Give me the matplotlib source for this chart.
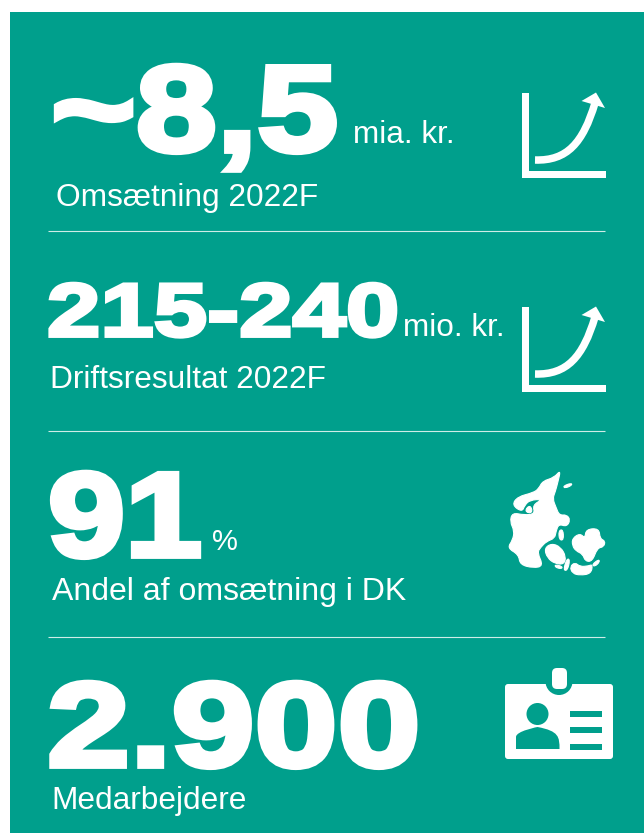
import matplotlib
matplotlib.use("Agg")
import matplotlib.patheffects as pe
import matplotlib.pyplot as plt
from matplotlib.patches import Circle, FancyBboxPatch, PathPatch, Rectangle, Polygon
from matplotlib.path import Path
from matplotlib.transforms import Affine2D

TEAL = "#009F8C"
WHITE = "#FFFFFF"

big_values = ["~8,5", "215-240", "91", "2.900"]
units = ["mia. kr.", "mio. kr.", "%", ""]
captions = ["Omsætning 2022F", "Driftsresultat 2022F", "Andel af omsætning i DK", "Medarbejdere"]
divider_y = [231, 431, 637]

# Denmark outline, in zoom-crop pixels
dk_shapes = [
    [(242, 60), (234, 95), (226, 125), (218, 146), (228, 172), (238, 196), (260, 194), (271, 210),
     (260, 230), (236, 222), (228, 245), (224, 265), (200, 274), (182, 292), (172, 308), (190, 348),
     (160, 354), (120, 344), (116, 314), (82, 294), (98, 270), (103, 243), (90, 215), (97, 188),
     (132, 195), (165, 192), (158, 165), (188, 148), (150, 150), (134, 166), (126, 186), (96, 165),
     (113, 140), (160, 128), (176, 116), (188, 93), (222, 83)],
    [(135, 180), (150, 165), (158, 185), (145, 190)],
    [(193, 295), (215, 280), (242, 291), (258, 320), (252, 343), (225, 341), (202, 324)],
    [(277, 265), (300, 250), (315, 265), (318, 238), (357, 235), (360, 266), (376, 273), (371, 291),
     (352, 294), (337, 334), (316, 334), (308, 312), (288, 303), (277, 287)],
    [(270, 350), (285, 337), (300, 350), (325, 348), (338, 343), (333, 371), (300, 376), (277, 370)],
    [(250, 360), (261, 325), (270, 330), (262, 362)],
    [(225, 344), (247, 349), (245, 357), (226, 352)],
    [(250, 108), (274, 99), (276, 106), (254, 115)],
    [(236, 242), (249, 238), (251, 270), (238, 270)],
    [(336, 344), (356, 328), (359, 336), (344, 350)],
]


class WideBold(pe.AbstractPathEffect):
    """Thicken and stretch a text sideways, the source font is an Arial Black."""

    def __init__(self, x0, sx, lw):
        super().__init__()
        self.x0, self.sx, self.lw = x0, sx, lw

    def draw_path(self, renderer, gc, tpath, affine, rgbFace=None):
        gc0 = renderer.new_gc()
        gc0.copy_properties(gc)
        gc0.set_linewidth(self.lw)
        gc0.set_foreground(WHITE)
        gc0.set_joinstyle("miter")
        stretch = Affine2D().translate(-self.x0, 0).scale(self.sx, 1).translate(self.x0, 0)
        renderer.draw_path(gc0, tpath, affine + stretch, rgbFace)
        gc0.restore()


def big(ax, x, y, s, size, sx, lw):
    ax.text(x, y, s, fontsize=size, fontweight="bold", color=WHITE, va="baseline", ha="left",
            path_effects=[WideBold(x, sx, lw)])


def small(ax, x, y, s, size):
    ax.text(x, y, s, fontsize=size, color=WHITE, va="baseline", ha="left")


def growth_icon(ax, dy):
    ax.add_patch(Rectangle((522, 93 + dy), 7, 85, fc=WHITE, ec="none"))
    ax.add_patch(Rectangle((522, 171 + dy), 84.5, 7, fc=WHITE, ec="none"))
    verts = [(535, 160 + dy), (567, 161 + dy), (583, 143 + dy), (595, 103 + dy)]
    codes = [Path.MOVETO, Path.CURVE4, Path.CURVE4, Path.CURVE4]
    ax.add_patch(PathPatch(Path(verts, codes), fc="none", ec=WHITE, lw=5.4, capstyle="butt"))
    ax.add_patch(Polygon([(596, 92.5 + dy), (581.5, 101 + dy), (605, 108 + dy)], fc=WHITE, ec="none"))


def smooth_path(pts):
    # closed quadratic spline through the midpoints, keeps the coast rounded
    mids = [((a[0] + b[0]) / 2, (a[1] + b[1]) / 2) for a, b in zip(pts, pts[1:] + pts[:1])]
    verts = [mids[-1]]
    codes = [Path.MOVETO]
    for p, m in zip(pts, mids):
        verts += [p, m]
        codes += [Path.CURVE3, Path.CURVE3]
    return Path(verts, codes)


def denmark(ax):
    for shape in dk_shapes:
        pts = [(480 + x / 3, 450 + y / 3) for x, y in shape]
        ax.add_patch(PathPatch(smooth_path(pts), fc=WHITE, ec=WHITE, lw=0.8, joinstyle="round"))


def badge(ax):
    ax.add_patch(FancyBboxPatch((505, 684), 108, 75, boxstyle="round,pad=0,rounding_size=3",
                                fc=WHITE, ec="none"))
    ax.add_patch(Circle((559, 681.5), 13.5, fc=TEAL, ec="none"))
    ax.add_patch(FancyBboxPatch((552, 668), 15, 21, boxstyle="round,pad=0,rounding_size=5",
                                fc=WHITE, ec="none"))
    ax.add_patch(Circle((537.5, 714), 11, fc=TEAL, ec="none"))
    body = [(516, 749), (516, 737), (516, 731), (537.5, 727), (537.5, 727),
            (559, 731), (559.5, 737), (559.5, 749), (516, 749)]
    codes = [Path.MOVETO, Path.LINETO, Path.CURVE4, Path.CURVE4, Path.LINETO,
             Path.CURVE4, Path.CURVE4, Path.LINETO, Path.CLOSEPOLY]
    ax.add_patch(PathPatch(Path(body, codes), fc=TEAL, ec="none"))
    for y0 in (711, 727, 744):
        ax.add_patch(Rectangle((570, y0), 32.5, 5.5, fc=TEAL, ec="none"))


fig = plt.figure(figsize=(6.44, 8.33), dpi=100)
plt.rcParams["font.family"] = ["Liberation Sans", "DejaVu Sans"]
ax = fig.add_axes([0, 0, 1, 1])
ax.set_xlim(0, 644)
ax.set_ylim(833, 0)
ax.axis("off")

ax.add_patch(Rectangle((10, 12), 634, 821, fc=TEAL, ec="none"))

for y in divider_y:
    ax.plot([48, 605], [y, y], color="#CFEDE8", lw=0.8, solid_capstyle="butt")

big(ax, 51, 151, big_values[0], 88, 1.19, 4.2)
big(ax, 47, 336, big_values[1], 54, 1.28, 2.8)
big(ax, 48, 556, big_values[2], 86, 1.16, 4.2)
big(ax, 47, 766, big_values[3], 86, 1.25, 4.2)

small(ax, 353, 143, units[0], 22.7)
small(ax, 403, 336, units[1], 22.7)
small(ax, 212, 550, units[2], 21)

small(ax, 56, 206, captions[0], 22.8)
small(ax, 50, 388, captions[1], 22.8)
small(ax, 52, 600, captions[2], 23)
small(ax, 51, 809, captions[3], 22.8)

growth_icon(ax, 0)
growth_icon(ax, 214)
denmark(ax)
badge(ax)

fig.savefig("out.png", dpi=100)
